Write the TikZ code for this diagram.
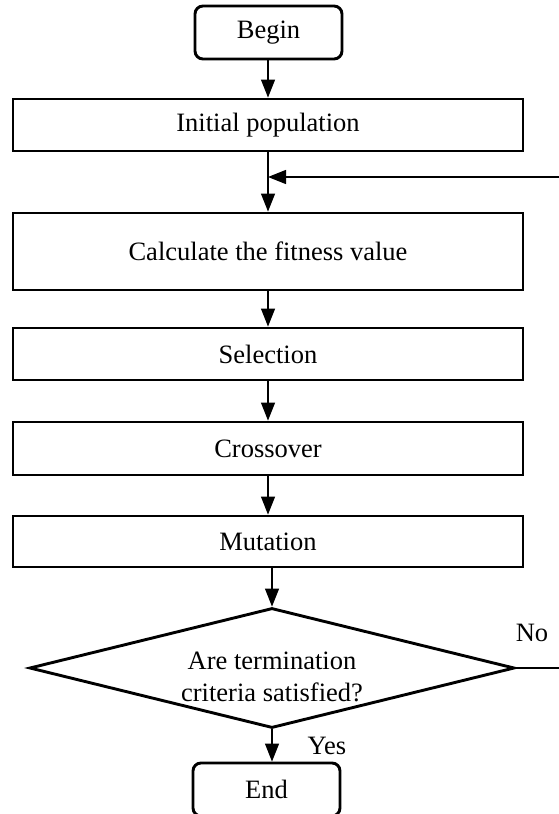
\documentclass[tikz,border=0pt]{standalone}
\usepackage{fontspec}
\setmainfont{Liberation Serif}
\usetikzlibrary{shapes.geometric,arrows.meta,calc}
\begin{document}
\begin{tikzpicture}[x=1pt,y=-1pt,
  every node/.style={font=\fontsize{26.5}{32}\selectfont},
  procbox/.style={draw, line width=2.9pt, minimum width=510pt, inner sep=0pt, anchor=center},
  termbox/.style={draw, line width=2.9pt, rounded corners=8pt, minimum width=147pt, minimum height=53pt, inner sep=0pt},
  decbox/.style={draw, diamond, line width=2.9pt, minimum width=485pt, minimum height=120pt, aspect=4, inner sep=0pt},
  conn/.style={line width=1.3pt, -{Triangle[width=14pt,length=18pt]}},
  plainline/.style={line width=1.3pt},
  lbl/.style={inner sep=0pt}
]
\useasboundingbox (0,0) rectangle (559,814);
\clip (0,0) rectangle (559,814);
\fill[white] (0,0) rectangle (559,814);

\node[termbox] (begin) at (268.5,32.5) {Begin};
\node[procbox, minimum height=52pt] (init) at (268,125) {Initial population};
\node[procbox, minimum height=77pt] (calc) at (268,251.5) {Calculate the fitness value};
\node[procbox, minimum height=52pt] (sel) at (268,354) {Selection};
\node[procbox, minimum height=53pt] (cross) at (268,448.5) {Crossover};
\node[procbox, minimum height=51pt] (mut) at (268,541.5) {Mutation};
\node[decbox, label={[name=dtext, align=center, inner sep=0pt, yshift=-9pt]center:Are termination\\criteria satisfied?}] (dec) at (272,668) {};
\node[termbox] (end) at (266.5,789.5) {End};

\node[lbl] (no) at (532,633) {No};
\node[lbl] (yes) at (327,746) {Yes};

\coordinate (join) at (268,177);
\coordinate (rb) at (585,668);
\coordinate (rt) at (585,177);

\draw[conn] (begin.south -| init.north) -- (init.north);
\draw[plainline] (init.south) -- (join);
\draw[conn] (join) -- (calc.north);
\draw[conn] (calc.south) -- (sel.north);
\draw[conn] (sel.south) -- (cross.north);
\draw[conn] (cross.south) -- (mut.north);
\draw[conn] (mut.south -| dec.north) -- (dec.north);
\draw[conn] (dec.south) -- (dec.south |- end.north);
\draw[plainline] (dec.east) -- (rb) -- (rt);
\draw[conn] (rt) -- (join);
\end{tikzpicture}
\end{document}
